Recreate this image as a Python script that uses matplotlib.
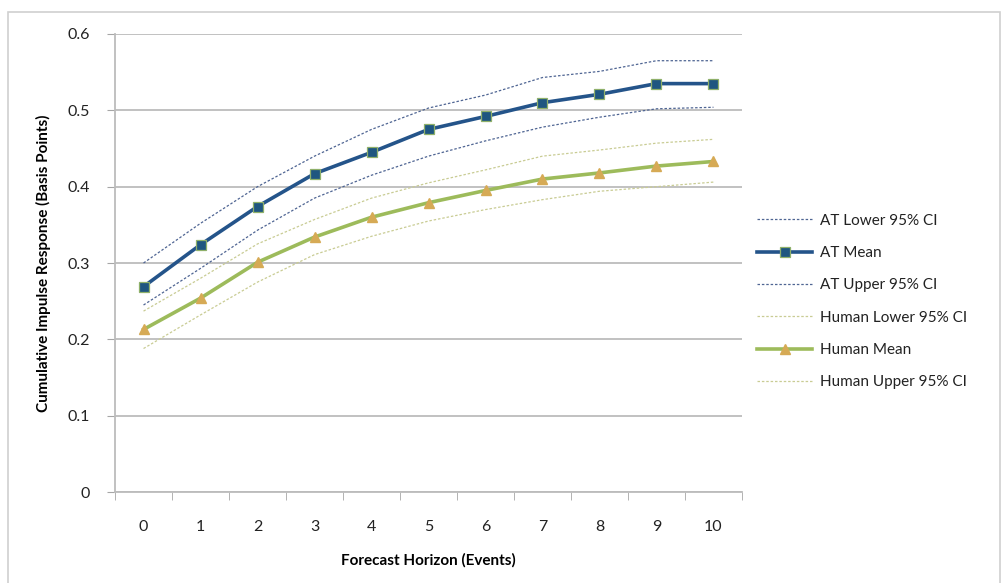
import matplotlib.pyplot as plt
from matplotlib.patches import Rectangle

horizon = list(range(11))
at_lower = [0.245, 0.293, 0.343, 0.385, 0.415, 0.44, 0.46, 0.478, 0.491, 0.502, 0.504]
at_mean = [0.269, 0.324, 0.374, 0.417, 0.445, 0.475, 0.492, 0.51, 0.521, 0.535, 0.535]
at_upper = [0.30, 0.352, 0.40, 0.44, 0.475, 0.503, 0.52, 0.543, 0.551, 0.565, 0.565]
hu_lower = [0.188, 0.232, 0.275, 0.311, 0.335, 0.355, 0.37, 0.383, 0.394, 0.40, 0.406]
hu_mean = [0.213, 0.254, 0.301, 0.334, 0.36, 0.379, 0.395, 0.41, 0.418, 0.427, 0.433]
hu_upper = [0.237, 0.28, 0.325, 0.357, 0.385, 0.405, 0.422, 0.44, 0.448, 0.457, 0.462]

yticks = [0, 0.1, 0.2, 0.3, 0.4, 0.5, 0.6]

plt.rcParams['font.family'] = ['Lato', 'DejaVu Sans']

fig = plt.figure(figsize=(10.02, 5.83), dpi=100)
fig.patches.append(Rectangle((0.008, -0.01), 0.99, 0.99, transform=fig.transFigure,
                             fill=False, edgecolor='#d0d0d0', lw=1.2))
ax = fig.add_axes([0.1148, 0.156, 0.6257, 0.7857])

ax.plot(horizon, at_lower, ls=(0, (2, 1.5)), lw=0.9, color='#4f6593', label='AT Lower 95% CI')
ax.plot(horizon, at_mean, lw=2.6, color='#24548a', marker='s', markersize=6.5,
        markerfacecolor='#1f5680', markeredgecolor='#8fb06a', markeredgewidth=0.9,
        label='AT Mean')
ax.plot(horizon, at_upper, ls=(0, (2, 1.5)), lw=0.9, color='#4f6593', label='AT Upper 95% CI')
ax.plot(horizon, hu_lower, ls=(0, (2, 1.5)), lw=0.9, color='#c9cc94', label='Human Lower 95% CI')
ax.plot(horizon, hu_mean, lw=2.6, color='#9dbb5b', marker='^', markersize=7,
        markerfacecolor='#d6aa55', markeredgecolor='#d6aa55', label='Human Mean')
ax.plot(horizon, hu_upper, ls=(0, (2, 1.5)), lw=0.9, color='#c9cc94', label='Human Upper 95% CI')

ax.set_xlim(-0.5, 10.5)
ax.set_ylim(0, 0.6)
ax.set_yticks(yticks)
ax.set_yticklabels(['0' if v == 0 else f'{v:.1f}' for v in yticks])
ax.set_xticks(horizon)
ax.set_xticks([h - 0.5 for h in horizon] + [10.5], minor=True)
ax.tick_params(axis='x', which='major', length=0, pad=20, labelsize=11.5, labelcolor='#222222')
ax.tick_params(axis='x', which='minor', length=6, color='#a6a6a6', direction='out')
ax.tick_params(axis='y', length=6, color='#a6a6a6', pad=12, labelsize=11.5, labelcolor='#222222')
ax.grid(axis='y', color='#bcbcbc', lw=1.3)
ax.set_axisbelow(True)
for s in ['top', 'right']:
    ax.spines[s].set_visible(False)
ax.spines['left'].set_color('#bcbcbc')
ax.spines['bottom'].set_color('#bcbcbc')
ax.spines['left'].set_linewidth(1.3)
ax.spines['bottom'].set_linewidth(1.3)

ax.set_xlabel('Forecast Horizon (Events)', fontsize=11, fontweight='bold', labelpad=14)
ax.set_ylabel('Cumulative Impulse Response (Basis Points)', fontsize=11,
              fontweight='bold', labelpad=12)

fig.legend(loc='center left', bbox_to_anchor=(0.742, 0.483), frameon=False,
           fontsize=11, labelspacing=1.2, handlelength=3.6, handletextpad=0.5,
           labelcolor='#222222')

fig.savefig('out.png', dpi=100)
